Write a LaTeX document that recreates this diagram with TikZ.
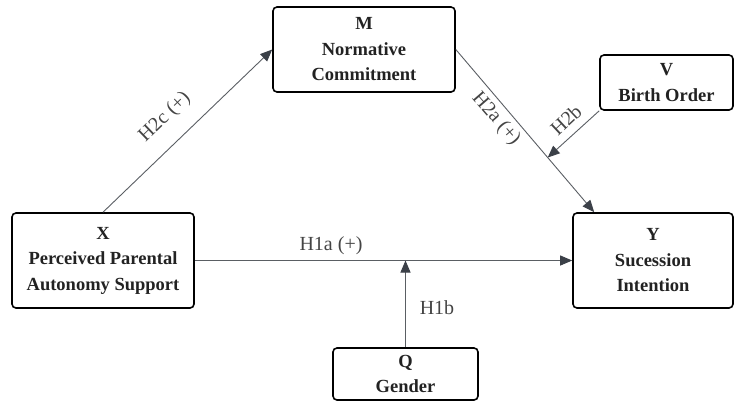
\documentclass[tikz,border=0pt]{standalone}
\usepackage{fontspec}
\setmainfont{Liberation Serif}
\usetikzlibrary{arrows.meta,calc}
\definecolor{linecol}{HTML}{5A5E63}
\definecolor{tipcol}{HTML}{3B4048}
\definecolor{txtcol}{HTML}{222222}
\definecolor{labcol}{HTML}{444444}
\begin{document}
\begin{tikzpicture}[x=1pt,y=-1pt,
 box/.style={draw=black, line width=1.6pt, rounded corners=4pt, align=center,
   font=\bfseries\fontsize{18.5}{25.5}\selectfont, text=txtcol, inner sep=0pt},
 conn/.style={draw=linecol, line width=0.9pt,
   -{Triangle[length=12pt,width=10pt,color=tipcol]}},
 lab/.style={font=\fontsize{20}{22}\selectfont, text=labcol, inner sep=0pt}]
\useasboundingbox (0,0) rectangle (746,408);
\node[box, minimum width=182, minimum height=95] (X) at (103,260.5) {X\\Perceived Parental\\Autonomy Support};
\node[box, minimum width=182, minimum height=85] (M) at (364,49.5) {M\\Normative\\Commitment};
\node[box, minimum width=133, minimum height=55] (V) at (666.5,82.5) {V\\Birth Order};
\node[box, minimum width=160, minimum height=95] (Y) at (653,260.5) {Y\\Sucession\\Intention};
\node[box, minimum width=145, minimum height=52] (Q) at (405.5,374) {Q\\Gender};
\coordinate (yt) at ($(Y.north west)+(22,0)$);
\coordinate (k) at ($(M.east)!0.664!(yt)$);
\coordinate (j) at (X.east -| Q.north);
\draw[conn] (X.north) -- (M.west);
\draw[conn] (M.east) -- (yt);
\draw[conn] (X.east) -- (Y.west);
\draw[conn] (Q.north) -- (j);
\draw[conn] (V.south west) -- (k);
\node[lab] (l1) at (331,246) {H1a (+)};
\node[lab] (l2) at (437,308) {H1b};
\node[lab, rotate=44] (l3) at (165,117) {H2c (+)};
\node[lab, rotate=-49] (l4) at (496,119) {H2a (+)};
\node[lab, rotate=43] (l5) at (566,120) {H2b};
\end{tikzpicture}
\end{document}
